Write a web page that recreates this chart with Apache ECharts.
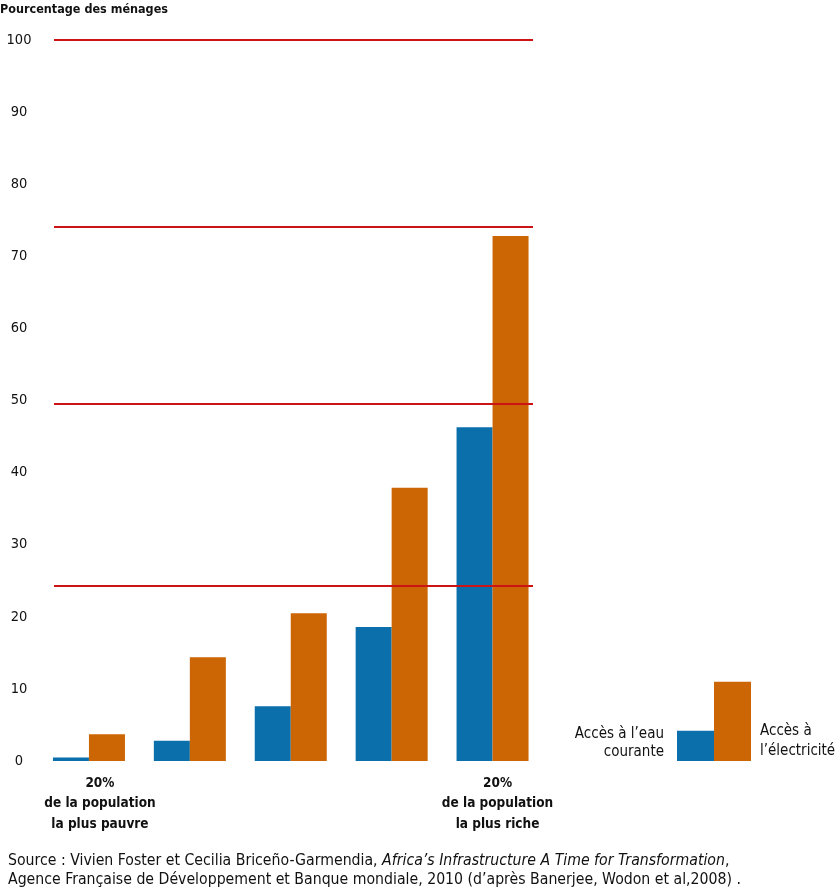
<!DOCTYPE html>
<html><head><meta charset="utf-8">
<script src="https://cdn.jsdelivr.net/npm/echarts@6/dist/echarts.min.js"></script>
<style>html,body{margin:0;padding:0;background:#fff}#c{width:839px;height:890px}</style>
</head><body><div id="c"></div>
<script>
const categories = ['20%\nde la population\nla plus pauvre', '', '', '', '20%\nde la population\nla plus riche'];
const waterAccess = [0.5, 2.8, 7.6, 18.6, 46.3];
const electricityAccess = [3.7, 14.4, 20.5, 37.9, 72.8];
const refLines = [100, 74.1, 49.6, 24.3];
const yTicks = {min: 0, max: 100, interval: 10};
const legendNames = ["Accès à l’eau\ncourante", "Accès à\nl’électricité"];
const legendValues = [4.2, 11.0];

const BLUE = '#0a6fab', ORANGE = '#cc6503', RED = '#cc1416';
const FONT = "'Liberation Sans Narrow','DejaVu Sans Condensed','Liberation Sans',sans-serif";

const chart = echarts.init(document.getElementById('c'));
const option = {
  animation: false,
  backgroundColor: '#fff',
  title: {
    text: 'Pourcentage des ménages', left: 0, top: 3, padding: 0,
    textStyle: {fontFamily: FONT, fontSize: 12.5, fontWeight: 'bold', color: '#111'}
  },
  grid: [
    {left: 38.5, right: 296, top: 40, bottom: 129},
    {left: 54, right: 306, top: 40, bottom: 129}
  ],
  xAxis: [
    {type: 'category', gridIndex: 0, data: categories, boundaryGap: true,
     axisLine: {show: false}, axisTick: {show: false},
     axisLabel: {interval: 0, margin: 12,
       formatter: (v, i) => v ? v.split('\n').map(s => '{' + (i === 0 ? 'a' : 'b') + '|' + s + '}').join('\n') : '',
       rich: {
         a: {fontFamily: FONT, fontSize: 13.5, fontWeight: 'bold', color: '#111', lineHeight: 20.5, padding: [0, 0, 0, 22]},
         b: {fontFamily: FONT, fontSize: 13.5, fontWeight: 'bold', color: '#111', lineHeight: 20.5, padding: [0, 0, 0, 10]}
       }}},
    {type: 'value', gridIndex: 1, min: 0, max: 1, show: false}
  ],
  yAxis: [
    {type: 'value', gridIndex: 0, min: yTicks.min, max: yTicks.max, interval: yTicks.interval, show: false},
    {type: 'value', gridIndex: 1, min: yTicks.min, max: yTicks.max, interval: yTicks.interval,
     axisLine: {show: false}, axisTick: {show: false}, splitLine: {show: false},
     axisLabel: {align: 'center', margin: 35, fontFamily: FONT, fontSize: 14.5, color: '#111'}}
  ],
  series: [
    {type: 'bar', name: 'eau', xAxisIndex: 0, yAxisIndex: 0, data: waterAccess, barWidth: 36, barGap: '0%',
     itemStyle: {color: BLUE}},
    {type: 'bar', name: 'elec', xAxisIndex: 0, yAxisIndex: 0, data: electricityAccess, barWidth: 36, barGap: '0%',
     itemStyle: {color: ORANGE}},
    {type: 'line', xAxisIndex: 1, yAxisIndex: 1, data: [], silent: true,
     markLine: {silent: true, symbol: 'none', label: {show: false},
       lineStyle: {color: RED, width: 2, type: 'solid'},
       data: refLines.map(v => ({yAxis: v}))}}
  ]
};
chart.setOption(option);

// Legend drawn as mini bars using the same y scale
const y0 = chart.convertToPixel({yAxisIndex: 1}, 0);
const yB = chart.convertToPixel({yAxisIndex: 1}, legendValues[0]);
const yO = chart.convertToPixel({yAxisIndex: 1}, legendValues[1]);
chart.setOption({
  graphic: [
    {type: 'rect', shape: {x: 677, y: yB, width: 37, height: y0 - yB}, style: {fill: BLUE}},
    {type: 'rect', shape: {x: 714, y: yO, width: 37, height: y0 - yO}, style: {fill: ORANGE}},
    {type: 'text', x: 664, y: 725, style: {text: legendNames[0], align: 'right', fontFamily: FONT, fontSize: 15, lineHeight: 18, fill: '#111'}},
    {type: 'text', x: 760, y: 721, style: {text: legendNames[1], align: 'left', fontFamily: FONT, fontSize: 15, lineHeight: 20, fill: '#111'}},
    {type: 'text', x: 8, y: 851, style: {
      text: '{n|Source : Vivien Foster et Cecilia Briceño-Garmendia, }{i|Africa’s Infrastructure A Time for Transformation}{n|,}\n{n|Agence Française de Développement et Banque mondiale, 2010 (d’après Banerjee, Wodon et al,2008) .}',
      rich: {
        n: {fontFamily: FONT, fontSize: 15.7, fill: '#111', lineHeight: 19},
        i: {fontFamily: FONT, fontSize: 15.7, fontStyle: 'italic', fill: '#111', lineHeight: 19}
      }}}
  ]
});
</script></body></html>
